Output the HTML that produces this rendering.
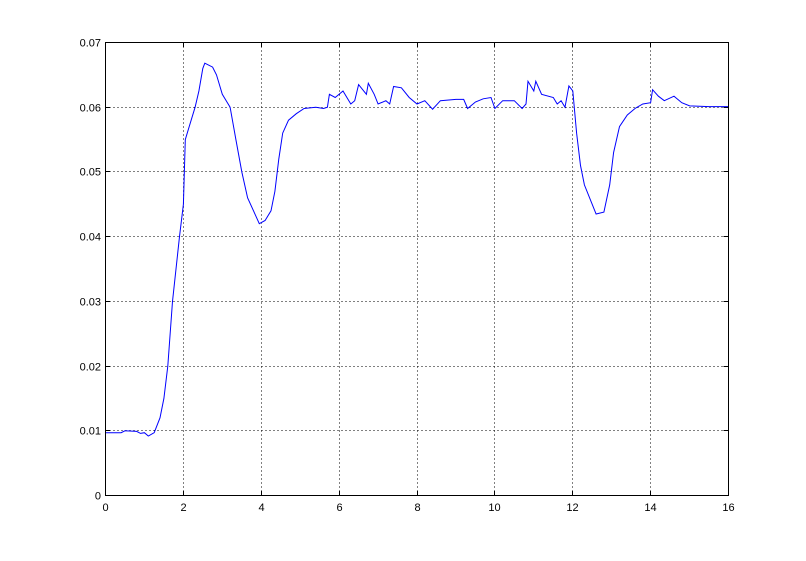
<!DOCTYPE html>
<html><head><meta charset="utf-8"><style>
body{margin:0;background:#fff;width:806px;height:556px;overflow:hidden}
text{font-family:"Liberation Sans",sans-serif;font-size:11px;fill:#000}
</style></head><body>
<svg id="chart" width="806" height="556" xmlns="http://www.w3.org/2000/svg">
<rect x="0" y="0" width="806" height="556" fill="#fff"/>
<g id="grid"></g><g id="ticks"></g><path id="line" fill="none" stroke="#0000ff" stroke-width="1"/>
<rect x="105.5" y="42.5" width="623" height="453" fill="none" stroke="#000"/>
</svg>
<script>
const xTicks=[0,2,4,6,8,10,12,14,16];
const yTicks=[0,0.01,0.02,0.03,0.04,0.05,0.06,0.07];
const yTickLabels=["0","0.01","0.02","0.03","0.04","0.05","0.06","0.07"];
const xs=[0,0.4,0.5,0.8,0.9,1.0,1.1,1.25,1.4,1.5,1.6,1.72,1.9,2.0,2.05,2.15,2.3,2.4,2.5,2.55,2.75,2.85,3.0,3.1,3.2,3.35,3.5,3.65,3.8,3.95,4.1,4.25,4.35,4.45,4.55,4.7,4.9,5.1,5.4,5.6,5.7,5.75,5.9,6.1,6.3,6.4,6.5,6.7,6.75,6.9,7.0,7.2,7.3,7.4,7.6,7.8,8.0,8.2,8.4,8.6,9.0,9.2,9.3,9.5,9.7,9.9,10.0,10.2,10.5,10.7,10.8,10.85,11.0,11.05,11.2,11.5,11.6,11.7,11.8,11.9,12.0,12.1,12.2,12.3,12.5,12.6,12.8,12.95,13.05,13.2,13.4,13.6,13.8,14.0,14.05,14.2,14.35,14.6,14.8,15.0,15.5,16];
const ys=[0.0097,0.0097,0.0100,0.0099,0.0096,0.0097,0.0092,0.0097,0.012,0.015,0.020,0.030,0.040,0.045,0.055,0.057,0.060,0.0625,0.066,0.0668,0.0662,0.065,0.062,0.061,0.060,0.055,0.050,0.046,0.044,0.042,0.0425,0.044,0.047,0.052,0.056,0.058,0.059,0.0598,0.0600,0.0598,0.0600,0.062,0.0615,0.0625,0.0605,0.061,0.0635,0.062,0.0637,0.062,0.0605,0.061,0.0605,0.0632,0.063,0.0615,0.0605,0.061,0.0597,0.061,0.0612,0.0612,0.0598,0.0608,0.0613,0.0615,0.0598,0.061,0.061,0.0598,0.0605,0.064,0.0625,0.064,0.062,0.0615,0.0605,0.061,0.060,0.0633,0.0625,0.056,0.051,0.048,0.045,0.0435,0.0438,0.048,0.053,0.057,0.0588,0.0598,0.0605,0.0607,0.0627,0.0617,0.061,0.0617,0.0607,0.0602,0.0601,0.0601];
const L=105.5,R=728.5,T=42.5,B=495.5;
const sx=v=>L+(v-0)/16*(R-L), sy=v=>B-v/0.07*(B-T);
const NS="http://www.w3.org/2000/svg";
const grid=document.getElementById('grid'), ticks=document.getElementById('ticks');
function mk(tag,attrs,parent){const e=document.createElementNS(NS,tag);for(const k in attrs)e.setAttribute(k,attrs[k]);parent.appendChild(e);return e;}
xTicks.forEach((t,i)=>{const x=Math.round(sx(t))+0.5-0.5;const xx=Math.round(sx(t)-0.5)+0.5;
 if(i>0&&i<xTicks.length-1){const g=mk('line',{x1:xx,x2:xx,y1:T,y2:B,stroke:'#000','stroke-dasharray':'1,3'},grid);
 
 }
 mk('line',{x1:xx,x2:xx,y1:B,y2:B-5,stroke:'#000'},ticks);mk('line',{x1:xx,x2:xx,y1:T,y2:T+5,stroke:'#000'},ticks);
 const tx=mk('text',{x:xx,y:511,'text-anchor':'middle'},ticks);tx.textContent=String(t);
 
 });
yTicks.forEach((t,i)=>{const yy=Math.round(sy(t)-0.5)+0.5;
 if(i>0&&i<yTicks.length-1){const g=mk('line',{x1:L,x2:R,y1:yy,y2:yy,stroke:'#000','stroke-dasharray':'1,3'},grid);
 
 }
 mk('line',{x1:L,x2:L+5,y1:yy,y2:yy,stroke:'#000'},ticks);mk('line',{x1:R,x2:R-5,y1:yy,y2:yy,stroke:'#000'},ticks);
 const tx=mk('text',{x:101,y:yy+4,'text-anchor':'end'},ticks);tx.textContent=yTickLabels[i];
 
 });
document.getElementById('line').setAttribute('d',xs.map((v,i)=>(i?'L':'M')+sx(v).toFixed(1)+','+sy(ys[i]).toFixed(1)).join(''));
</script>
</body></html>
